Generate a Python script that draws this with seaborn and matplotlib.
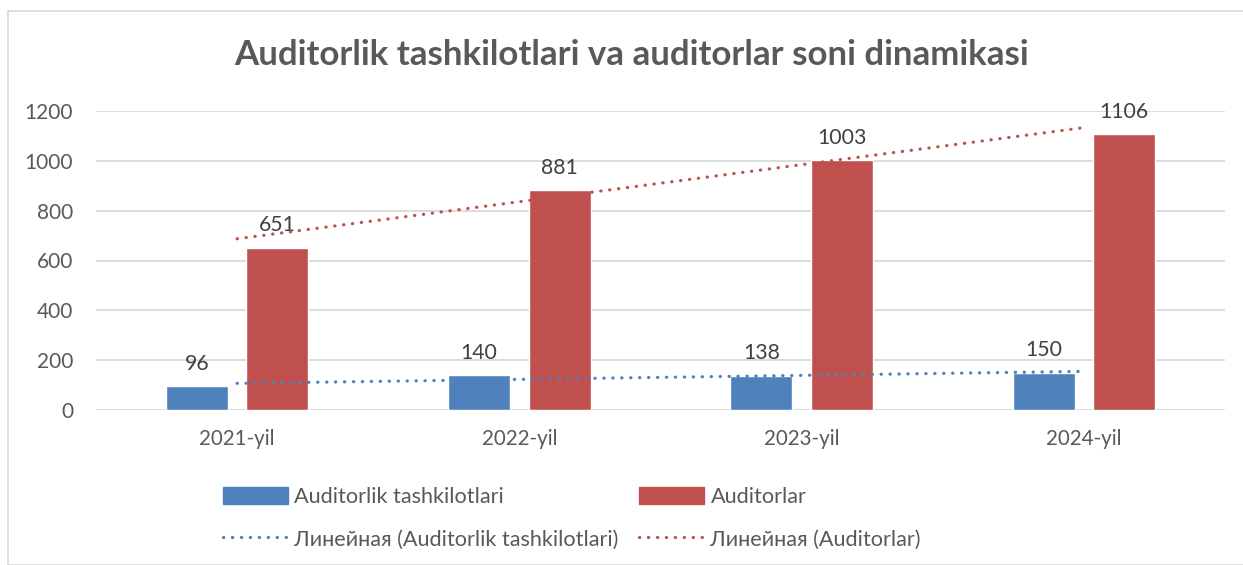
import numpy as np
import pandas as pd
import matplotlib
matplotlib.use("Agg")
import matplotlib.pyplot as plt
import seaborn as sns
from matplotlib.lines import Line2D
from matplotlib.patches import Patch, Rectangle

years = ["2021-yil", "2022-yil", "2023-yil", "2024-yil"]
organizations = [96, 140, 138, 150]
auditors = [651, 881, 1003, 1106]
series_names = ["Auditorlik tashkilotlari", "Auditorlar"]
trend_names = ["Линейная (Auditorlik tashkilotlari)", "Линейная (Auditorlar)"]
title = "Auditorlik tashkilotlari va auditorlar soni dinamikasi"
y_ticks = [0, 200, 400, 600, 800, 1000, 1200]

colors = ["#4F81BD", "#C0504D"]
text_color = "#595959"

sns.set_theme(style="white")
plt.rcParams["font.family"] = ["Lato", "DejaVu Sans"]

df = pd.DataFrame({
    "year": years * 2,
    "value": organizations + auditors,
    "series": [series_names[0]] * 4 + [series_names[1]] * 4,
})

fig = plt.figure(figsize=(12.43, 5.65), dpi=100)
ax = fig.add_axes([96 / 1243, 155 / 565, (1225 - 96) / 1243, 299 / 565])

sns.barplot(data=df, x="year", y="value", hue="series", order=years,
            hue_order=series_names, palette=colors, width=0.57, gap=0.23,
            saturation=1, ax=ax, legend=False, zorder=2)

for cont in ax.containers:
    ax.bar_label(cont, fmt="%d", padding=9, fontsize=15.3, color="#404040")

xs = np.arange(len(years))
dot_style = (0, (0.1, 2.7))
for vals, c in zip([organizations, auditors], colors):
    k, b = np.polyfit(xs + 1, vals, 1)
    ax.plot(xs, k * (xs + 1) + b, color=c, lw=2.3, linestyle=dot_style,
            dash_capstyle="round", zorder=3)

ax.set_ylim(0, 1200)
ax.set_xlim(-0.5, 3.5)
ax.set_yticks(y_ticks)
ax.yaxis.grid(True, color="#D9D9D9", lw=1.3)
ax.set_axisbelow(True)
for s in ax.spines.values():
    s.set_visible(False)
ax.tick_params(axis="y", length=0, pad=16.5, labelsize=15, labelcolor=text_color)
ax.tick_params(axis="x", length=0, pad=14, labelsize=14.8, labelcolor=text_color)
ax.set_xlabel("")
ax.set_ylabel("")

fig.text(631 / 1243, 1 - 55 / 565, title, ha="center", va="center", fontsize=25.1,
         fontweight="bold", color=text_color)

handles = [Patch(color=colors[0]),
           Line2D([], [], color=colors[0], lw=2.3, linestyle=dot_style, dash_capstyle="round"),
           Patch(color=colors[1]),
           Line2D([], [], color=colors[1], lw=2.3, linestyle=dot_style, dash_capstyle="round")]
labels = [series_names[0], trend_names[0], series_names[1], trend_names[1]]
fig.legend(handles, labels, ncol=2, loc="upper left",
           bbox_to_anchor=(203 / 1243, 1 - 467 / 565), frameon=False,
           fontsize=15.6, labelcolor=text_color, handlelength=3.0, handleheight=0.85,
           handletextpad=0.3, columnspacing=0.95, labelspacing=1.05)

fig.patches.append(Rectangle((8 / 1243, 0), 1.2, 1 - 11 / 565, transform=fig.transFigure,
                             fill=False, edgecolor="#D9D9D9", lw=1.2))

fig.savefig("out.png", dpi=100)
